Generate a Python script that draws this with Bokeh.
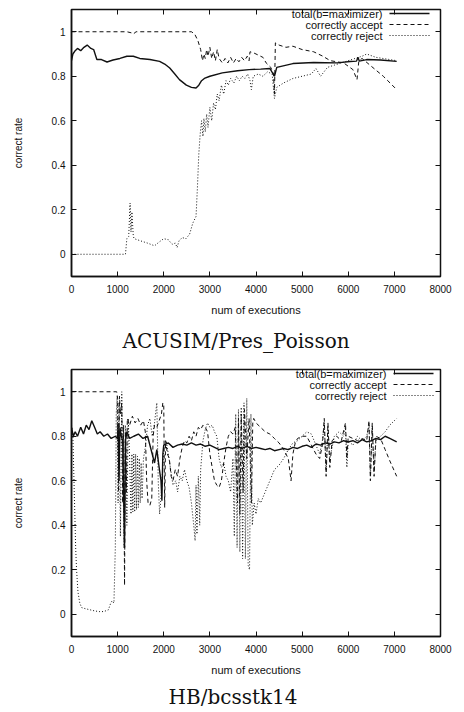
from bokeh.plotting import figure
from bokeh.models import Range1d, FixedTicker, LinearAxis, Label, Arrow, Title
from bokeh.layouts import column
from bokeh.embed import file_html
from bokeh.resources import INLINE

# ---------------- data ----------------
x_ticks = [0, 1000, 2000, 3000, 4000, 5000, 6000, 7000, 8000]
y_ticks = [0, 0.2, 0.4, 0.6, 0.8, 1.0]
y_tick_labels = ["0", "0.2", "0.4", "0.6", "0.8", "1"]
series_names = ["total(b=maximizer)", "correctly accept", "correctly reject"]
captions = ["ACUSIM/Pres_Poisson", "HB/bcsstk14"]
x_label = "num of executions"
y_label = "correct rate"

# ACUSIM/Pres_Poisson
pp_total_x = [0, 30, 80, 130, 200, 270, 340, 420, 480, 550, 650, 770, 900, 1050, 1200, 1340,
              1480, 1700, 1910, 2020, 2130, 2240, 2340, 2490, 2600, 2700, 2760, 2820, 2880, 3000,
              3270, 3600, 3850, 4100, 4300, 4400, 4450, 4800, 5250, 5760, 6040, 6180, 6210, 6240,
              6400, 6700, 7050]
pp_total = [0.87, 0.90, 0.915, 0.925, 0.915, 0.93, 0.94, 0.925, 0.92, 0.875, 0.875, 0.864, 0.873,
            0.88, 0.89, 0.89, 0.88, 0.875, 0.867, 0.855, 0.837, 0.81, 0.785, 0.76, 0.75, 0.747,
            0.76, 0.78, 0.79, 0.80, 0.815, 0.825, 0.83, 0.832, 0.835, 0.80, 0.84, 0.857, 0.862,
            0.86, 0.866, 0.868, 0.885, 0.868, 0.875, 0.873, 0.867]

pp_accept_x = [0, 1200, 1300, 1340, 1400, 2600, 2670, 2740, 2800, 2840, 2870, 2900, 2930, 2960,
               3000, 3040, 3080, 3120, 3160, 3200, 3270, 3330, 3390, 3450, 3510, 3570, 3630, 3690,
               3750, 3810, 3850, 3870, 3950, 4050, 4150, 4220, 4320, 4380, 4400, 4420, 4500, 4650,
               4800, 5000, 5250, 5450, 5610, 5900, 6100, 6190, 6230, 6300, 6470, 6760, 7050]
pp_accept = [1.0, 1.0, 0.995, 0.99, 1.0, 1.0, 0.99, 0.96, 0.92, 0.87, 0.9, 0.88, 0.92, 0.89,
             0.93, 0.88, 0.91, 0.87, 0.92, 0.88, 0.86, 0.88, 0.86, 0.885, 0.86, 0.88, 0.865, 0.885,
             0.87, 0.89, 0.87, 0.91, 0.905, 0.895, 0.885, 0.86, 0.84, 0.81, 0.72, 0.95, 0.94, 0.93,
             0.935, 0.92, 0.91, 0.89, 0.87, 0.86, 0.83, 0.785, 0.87, 0.88, 0.85, 0.80, 0.74]

pp_reject_x = [0, 1170, 1200, 1240, 1270, 1290, 1310, 1340, 1360, 1500, 1650, 1800, 1900, 2000,
               2100, 2180, 2250, 2290, 2330, 2400, 2480, 2560, 2630, 2700, 2730, 2760, 2790, 2820,
               2850, 2870, 2900, 2930, 2960, 3000, 3040, 3080, 3120, 3160, 3200, 3250, 3300, 3350,
               3400, 3450, 3520, 3580, 3640, 3700, 3760, 3820, 3870, 3900, 3940, 4050, 4150, 4250,
               4350, 4400, 4450, 4600, 4800, 5000, 5200, 5300, 5400, 5550, 5700, 5850, 6000, 6150,
               6300, 6400, 6600, 7050]
pp_reject = [0.0, 0.0, 0.07, 0.08, 0.23, 0.1, 0.19, 0.08, 0.07, 0.06, 0.05, 0.038, 0.055, 0.07,
             0.065, 0.045, 0.05, 0.03, 0.06, 0.075, 0.07, 0.09, 0.14, 0.17, 0.3, 0.45, 0.54, 0.6,
             0.53, 0.61, 0.55, 0.63, 0.57, 0.66, 0.6, 0.68, 0.65, 0.72, 0.69, 0.76, 0.72, 0.78,
             0.76, 0.79, 0.77, 0.8, 0.78, 0.8, 0.79, 0.81, 0.78, 0.74, 0.8, 0.81, 0.8, 0.82,
             0.81, 0.70, 0.75, 0.77, 0.79, 0.8, 0.81, 0.835, 0.8, 0.84, 0.85, 0.86, 0.87, 0.88,
             0.89, 0.9, 0.885, 0.87]

# HB/bcsstk14
hb_total_x = [0, 40, 80, 130, 200, 260, 320, 380, 440, 500, 560, 620, 700, 780, 860, 950, 1000,
              1010, 1030, 1050, 1080, 1110, 1150, 1170, 1200, 1260, 1350, 1450, 1550, 1650, 1750,
              1800, 1850, 1900, 1940, 1960, 1980, 2000, 2100, 2200, 2300, 2400, 2500, 2600, 2700,
              2800, 2900, 3000, 3100, 3200, 3300, 3400, 3500, 3600, 3700, 3800, 3900, 4000, 4100,
              4200, 4300, 4400, 4500, 4600, 4700, 4800, 4900, 5000, 5100, 5200, 5300, 5400, 5500,
              5600, 5700, 5800, 5900, 6000, 6100, 6200, 6300, 6400, 6500, 6600, 6700, 6800, 6900,
              7050]
hb_total = [0.84, 0.80, 0.82, 0.80, 0.84, 0.81, 0.85, 0.83, 0.87, 0.84, 0.81, 0.82, 0.80, 0.81,
            0.79, 0.80, 0.79, 0.86, 0.6, 0.84, 0.80, 0.78, 0.3, 0.78, 0.82, 0.79, 0.80, 0.81,
            0.79, 0.8, 0.72, 0.68, 0.74, 0.66, 0.6, 0.51, 0.72, 0.76, 0.77, 0.75, 0.76, 0.765,
            0.76, 0.77, 0.76, 0.765, 0.755, 0.76, 0.75, 0.74, 0.745, 0.75, 0.745, 0.755, 0.745,
            0.755, 0.745, 0.75, 0.745, 0.74, 0.745, 0.735, 0.74, 0.745, 0.74, 0.75, 0.745, 0.755,
            0.76, 0.75, 0.765, 0.76, 0.77, 0.765, 0.775, 0.77, 0.78, 0.775, 0.78, 0.77, 0.785,
            0.775, 0.78, 0.79, 0.785, 0.80, 0.79, 0.775]

hb_accept_x = [0, 980, 1000, 1020, 1040, 1060, 1090, 1110, 1130, 1150, 1170, 1190, 1210, 1260,
               1320, 1380, 1440, 1500, 1560, 1600, 1630, 1660, 1700, 1740, 1770, 1800, 1850, 1900,
               1950, 1980, 2000, 2020, 2040, 2080, 2120, 2160, 2200, 2250, 2300, 2350, 2400, 2450,
               2500, 2550, 2600, 2650, 2700, 2750, 2800, 2850, 2900, 2950, 3000, 3050, 3100, 3150,
               3200, 3250, 3300, 3350, 3400, 3450, 3500, 3550, 3600, 3620, 3650, 3680, 3720, 3750,
               3800, 3850, 3900, 3930, 3950, 4000, 4100, 4200, 4300, 4400, 4500, 4600, 4700, 4760,
               4800, 4850, 4900, 5000, 5100, 5200, 5300, 5380, 5440, 5480, 5520, 5560, 5600, 5650,
               5750, 5850, 5940, 5970, 6000, 6100, 6200, 6300, 6400, 6450, 6480, 6520, 6560, 6600,
               6700, 6800, 6900, 7050]
hb_accept = [1.0, 1.0, 0.97, 0.55, 0.98, 0.9, 0.95, 0.5, 0.85, 0.13, 0.82, 0.55, 0.88, 0.85,
             0.89, 0.86, 0.88, 0.85, 0.87, 0.82, 0.6, 0.5, 0.49, 0.52, 0.8, 0.85, 0.84, 0.87,
             0.9, 0.95, 0.94, 0.48, 0.78, 0.72, 0.7, 0.62, 0.6, 0.65, 0.62, 0.7, 0.75, 0.78,
             0.77, 0.8, 0.78, 0.82, 0.8, 0.84, 0.83, 0.85, 0.84, 0.82, 0.72, 0.66, 0.6, 0.58,
             0.57, 0.6, 0.68, 0.75, 0.8, 0.82, 0.81, 0.84, 0.5, 0.88, 0.45, 0.9, 0.55, 0.92,
             0.7, 0.88, 0.5, 0.86, 0.88, 0.86, 0.84, 0.82, 0.81, 0.79, 0.77, 0.74, 0.7, 0.6,
             0.72, 0.77, 0.79, 0.8, 0.8, 0.76, 0.72, 0.70, 0.76, 0.88, 0.62, 0.86, 0.66, 0.78,
             0.8, 0.78, 0.86, 0.7, 0.8, 0.79, 0.78, 0.79, 0.78, 0.87, 0.6, 0.86, 0.62, 0.8,
             0.79, 0.74, 0.69, 0.62]

hb_reject_x = [0, 30, 60, 90, 110, 140, 180, 220, 300, 400, 500, 600, 700, 800, 850, 880, 920,
               950, 970, 990, 1010, 1030, 1060, 1090, 1110, 1140, 1170, 1200, 1230, 1260, 1290,
               1310, 1330, 1350, 1370, 1390, 1410, 1430, 1450, 1470, 1490, 1510, 1530, 1560, 1600,
               1650, 1700, 1750, 1800, 1850, 1880, 1910, 1950, 2000, 2050, 2100, 2150, 2200, 2260,
               2300, 2350, 2400, 2450, 2500, 2550, 2600, 2650, 2680, 2700, 2720, 2750, 2780, 2800,
               2850, 2900, 2950, 3000, 3050, 3100, 3150, 3200, 3250, 3300, 3350, 3400, 3450, 3500,
               3530, 3560, 3590, 3620, 3650, 3680, 3710, 3740, 3770, 3800, 3830, 3860, 3890, 3920,
               3960, 4000, 4050, 4100, 4200, 4300, 4400, 4500, 4600, 4700, 4800, 4900, 5000, 5100,
               5200, 5300, 5380, 5440, 5480, 5520, 5560, 5600, 5700, 5800, 5900, 5940, 5970, 6000,
               6100, 6200, 6300, 6400, 6450, 6480, 6520, 6560, 6600, 6700, 6800, 6900, 7050]
hb_reject = [0.85, 0.8, 0.55, 0.3, 0.2, 0.1, 0.05, 0.03, 0.025, 0.02, 0.015, 0.012, 0.012, 0.02,
             0.05, 0.06, 0.05, 0.3, 0.9, 0.98, 0.5, 0.95, 0.35, 1.0, 0.7, 0.3, 0.85, 0.4, 0.88,
             0.7, 0.45, 0.72, 0.46, 0.72, 0.46, 0.72, 0.47, 0.71, 0.48, 0.7, 0.5, 0.68, 0.52,
             0.7, 0.75, 0.85, 0.88, 0.8, 0.86, 0.95, 0.6, 0.45, 0.55, 0.75, 0.78, 0.72, 0.65,
             0.58, 0.6, 0.55, 0.62, 0.6, 0.65, 0.6, 0.57, 0.5, 0.4, 0.33, 0.58, 0.36, 0.62, 0.4,
             0.65, 0.78, 0.83, 0.86, 0.84, 0.85, 0.82, 0.8, 0.7, 0.66, 0.68, 0.62, 0.6, 0.55,
             0.7, 0.35, 0.9, 0.3, 0.92, 0.28, 0.93, 0.25, 0.95, 0.25, 0.97, 0.22, 0.2, 0.9, 0.4,
             0.5, 0.45, 0.52, 0.5, 0.55, 0.6, 0.65, 0.67, 0.7, 0.74, 0.77, 0.78, 0.8, 0.82, 0.81,
             0.76, 0.72, 0.78, 0.86, 0.64, 0.84, 0.7, 0.8, 0.82, 0.8, 0.84, 0.66, 0.78, 0.76,
             0.8, 0.78, 0.8, 0.85, 0.62, 0.84, 0.64, 0.78, 0.8, 0.82, 0.85, 0.88]

# ---------------- styling ----------------
SANS = "Liberation Sans"
SERIF = "DejaVu Serif"
INK = "#111111"
line_dashes = ["solid", "4 3", "1 2"]
line_widths = [1.4, 1.0, 1.0]


def make_panel(caption, series, height, left, right, top, bottom, title_standoff,
               title_offset, legend_right):
    p = figure(width=464, height=height, x_range=Range1d(0, 8000), y_range=Range1d(-0.1, 1.1),
               output_backend="svg", toolbar_location=None,
               min_border_left=left, min_border_right=right,
               min_border_top=top, min_border_bottom=bottom)
    p.grid.visible = False
    p.outline_line_color = INK
    p.outline_line_width = 1.5
    p.background_fill_color = "white"
    p.border_fill_color = "white"

    for ax in (p.xaxis[0], p.yaxis[0]):
        ax.axis_line_color = INK
        ax.axis_line_width = 1.5
        ax.major_tick_in = 5
        ax.major_tick_out = 0
        ax.major_tick_line_color = INK
        ax.minor_tick_line_color = None
        ax.major_label_text_font = SANS
        ax.major_label_text_font_size = "10px"
        ax.major_label_text_color = INK
        ax.axis_label_text_font = SANS
        ax.axis_label_text_font_style = "normal"
        ax.axis_label_text_color = INK

    p.xaxis.ticker = FixedTicker(ticks=x_ticks)
    p.xaxis.major_label_standoff = 8
    p.xaxis.axis_label = x_label
    p.xaxis.axis_label_text_font_size = "11px"
    p.xaxis.axis_label_standoff = 8

    p.yaxis.ticker = FixedTicker(ticks=y_ticks)
    p.yaxis.major_label_overrides = {t: s for t, s in zip(y_ticks, y_tick_labels)}
    p.yaxis.major_label_standoff = 6
    p.yaxis.axis_label = y_label
    p.yaxis.axis_label_text_font_size = "10px"
    p.yaxis.axis_label_standoff = 25

    # mirrored ticks on top and right (no labels)
    for loc, ticks in (("above", x_ticks), ("right", y_ticks)):
        ax = LinearAxis(ticker=FixedTicker(ticks=ticks))
        ax.major_label_text_font_size = "1px"
        ax.major_label_text_color = None
        ax.major_label_standoff = 0
        ax.axis_line_color = None
        ax.major_tick_in = 5
        ax.major_tick_out = 0
        ax.major_tick_line_color = INK
        ax.minor_tick_line_color = None
        p.add_layout(ax, loc)

    for (xs, ys), dash, lw in zip(series, line_dashes, line_widths):
        p.line(xs, ys, line_color=INK, line_width=lw, line_dash=dash)

    # gnuplot-style key: label right-aligned, sample line to its right
    frame_h = height - top - bottom
    for i, (name, dash, lw) in enumerate(zip(series_names, line_dashes, line_widths)):
        yy = frame_h - 6 - 11 * i
        p.add_layout(Label(x=legend_right, y=yy, x_units="screen", y_units="screen",
                           text=name, text_align="right", text_baseline="middle",
                           text_font=SANS, text_font_size="11px", text_color=INK))
        p.add_layout(Arrow(end=None, x_start=legend_right + 7, y_start=yy,
                           x_end=legend_right + 47, y_end=yy,
                           start_units="screen", end_units="screen",
                           line_color=INK, line_width=lw, line_dash=dash))

    p.add_layout(Title(text=caption, align="left", text_font=SERIF, text_font_size="20px",
                       text_font_style="normal", text_color=INK, standoff=title_standoff,
                       offset=title_offset), "below")
    return p


p1 = make_panel(captions[0],
                [(pp_total_x, pp_total), (pp_accept_x, pp_accept), (pp_reject_x, pp_reject)],
                height=360, left=71, right=21, top=9, bottom=82, title_standoff=16,
                title_offset=51, legend_right=311)
p2 = make_panel(captions[1],
                [(hb_total_x, hb_total), (hb_accept_x, hb_accept), (hb_reject_x, hb_reject)],
                height=352, left=69, right=24, top=9, bottom=74, title_standoff=8,
                title_offset=97, legend_right=315)

layout = column(p1, p2, spacing=0)
open("out.html", "w").write(file_html(layout, INLINE))
